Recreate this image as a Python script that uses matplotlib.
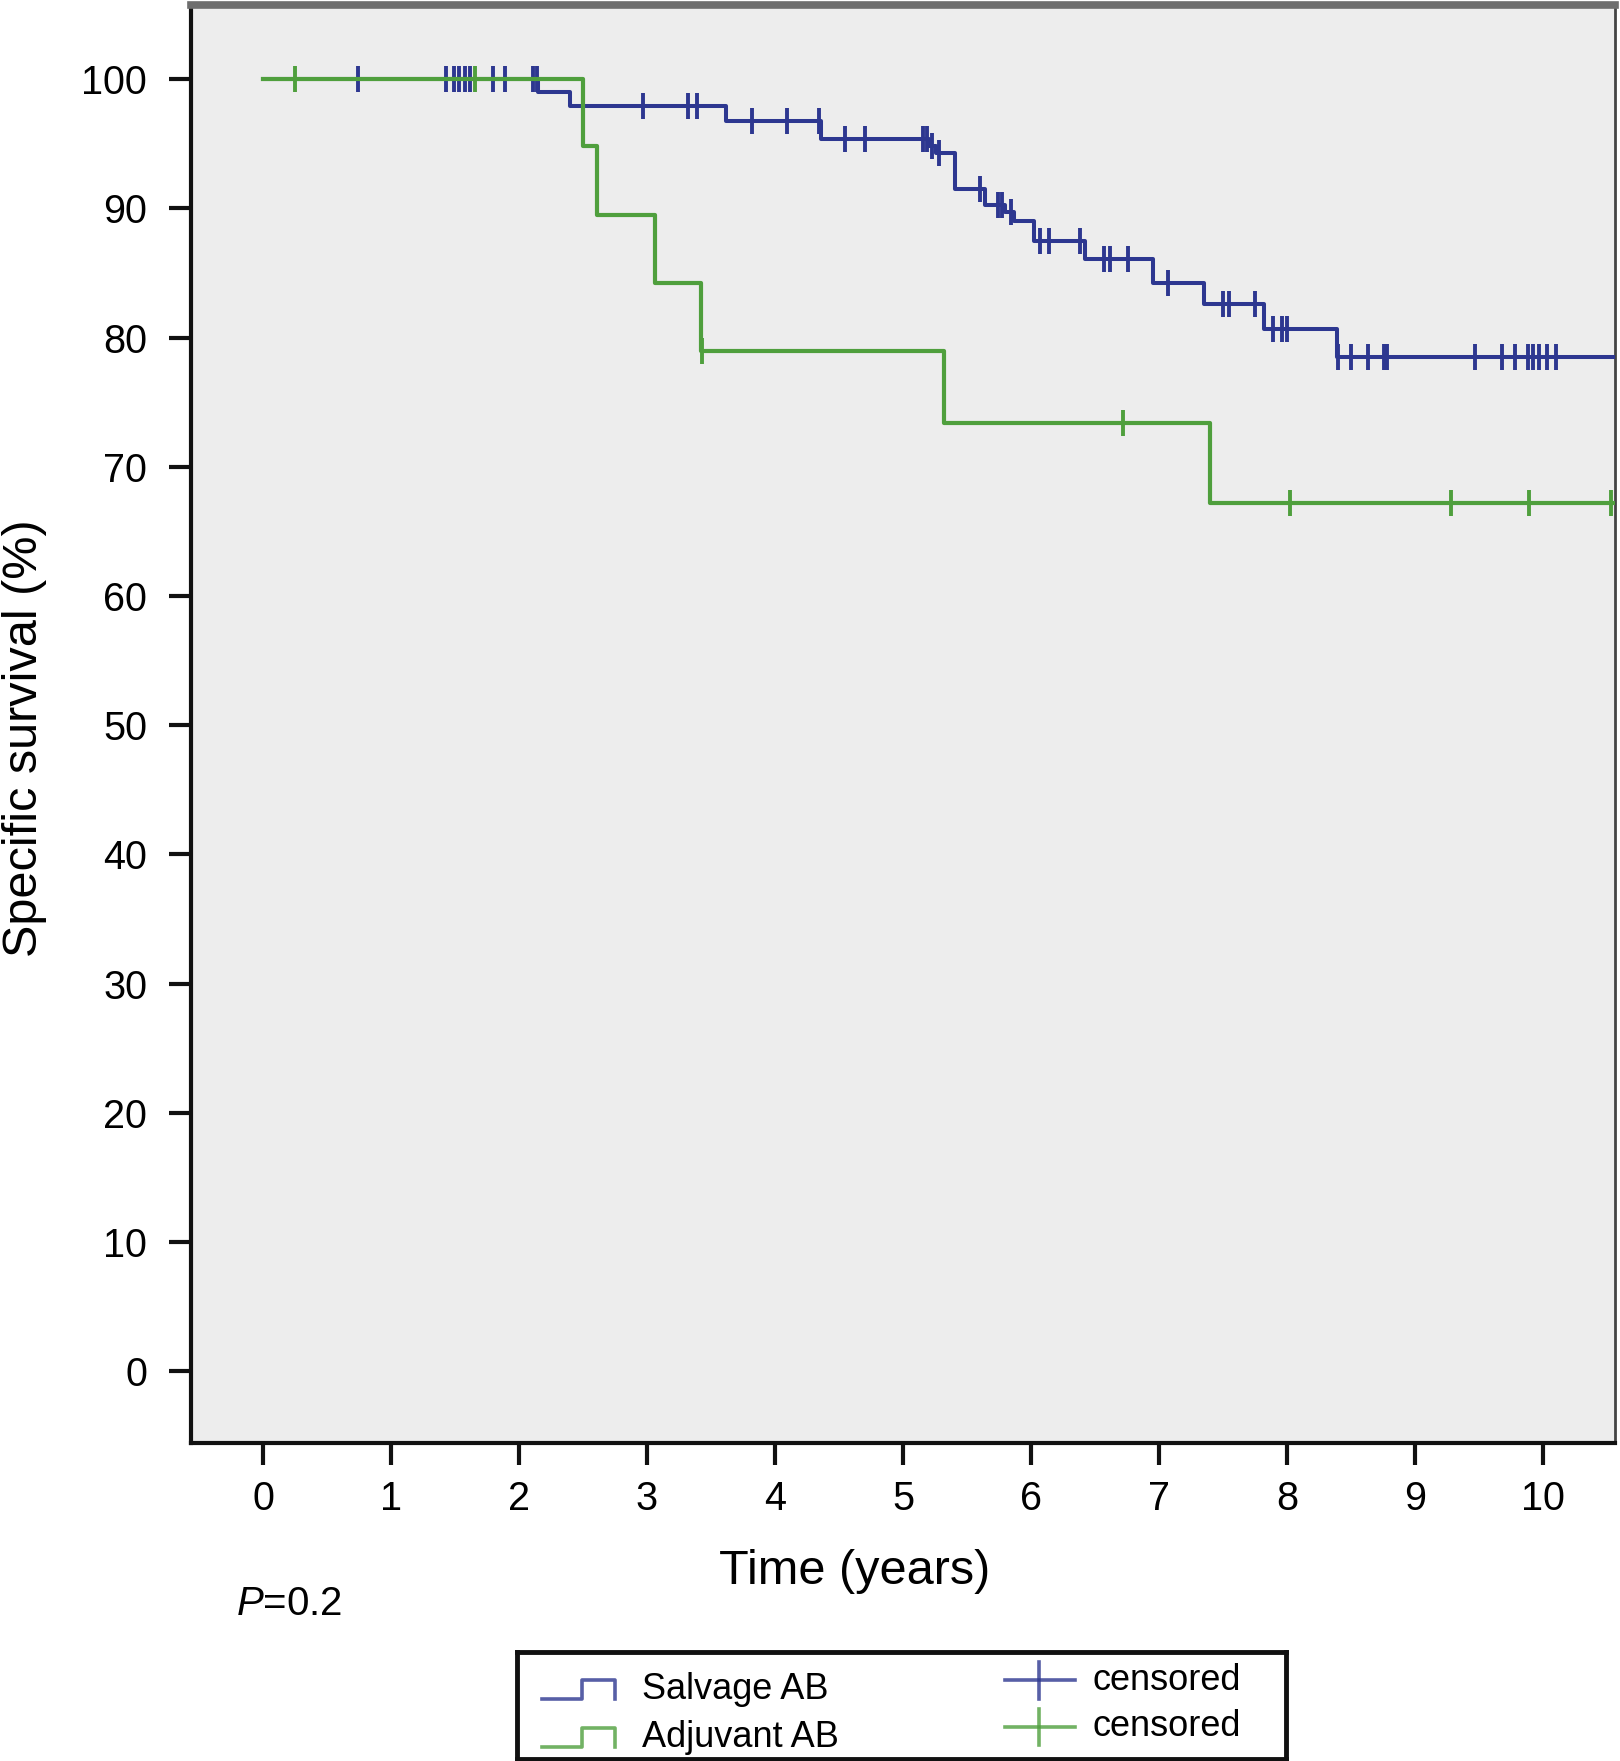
import matplotlib
matplotlib.use("Agg")
import matplotlib.pyplot as plt
import numpy as np

plt.rcParams["font.family"] = ["Liberation Sans", "DejaVu Sans"]
plt.rcParams["mathtext.fontset"] = "custom"
plt.rcParams["mathtext.it"] = "Liberation Sans:italic"
plt.rcParams["mathtext.rm"] = "Liberation Sans"

BLUE = "#2d3790"
GREEN = "#4f9f3d"

# Kaplan-Meier steps (time in years, survival in %)
salvage_times = [0, 2.15, 2.40, 3.62, 4.36, 5.20, 5.26, 5.41, 5.64, 5.80, 5.87,
                 6.02, 6.42, 6.95, 7.35, 7.82, 8.39, 10.7]
salvage_surv = [100, 99.0, 97.9, 96.8, 95.4, 94.85, 94.3, 91.5, 90.3, 89.7, 89.0,
                87.5, 86.1, 84.2, 82.6, 80.7, 78.5, 78.5]
salvage_censored = [0.74, 1.43, 1.49, 1.53, 1.58, 1.62, 1.80, 1.89, 2.11, 2.14,
                    2.97, 3.32, 3.39, 3.82, 4.09, 4.34, 4.55, 4.70, 5.16, 5.19,
                    5.23, 5.28, 5.60, 5.74, 5.77, 5.84, 6.07, 6.14, 6.38, 6.57,
                    6.62, 6.76, 7.07, 7.50, 7.55, 7.75, 7.89, 7.96, 8.00, 8.40,
                    8.50, 8.63, 8.76, 8.78, 9.47, 9.68, 9.78, 9.88, 9.92, 9.97,
                    10.03, 10.10]

adjuvant_times = [0, 2.50, 2.61, 3.06, 3.42, 5.32, 7.40, 10.7]
adjuvant_surv = [100, 94.8, 89.5, 84.2, 79.0, 73.4, 67.2, 67.2]
adjuvant_censored = [0.25, 1.66, 3.43, 6.72, 8.02, 9.28, 9.89, 10.53]

x_ticks = list(range(0, 11))
y_ticks = list(range(0, 101, 10))


def surv_at(times, surv, t):
    idx = np.searchsorted(times, t, side="right") - 1
    return np.asarray(surv)[idx]


fig = plt.figure(figsize=(16.2, 17.61), dpi=100)
ax = fig.add_axes([191 / 1620, 1 - 1443 / 1761, 1424 / 1620, 1438 / 1761])
ax.set_facecolor("#ededed")

ax.step(salvage_times, salvage_surv, where="post", color=BLUE, lw=2.9, zorder=3)
ax.plot(salvage_censored, surv_at(salvage_times, salvage_surv, salvage_censored),
        linestyle="none", marker="|", ms=19, mew=2.8, color=BLUE, zorder=3)
ax.step(adjuvant_times, adjuvant_surv, where="post", color=GREEN, lw=3.0, zorder=4)
ax.plot(adjuvant_censored, surv_at(adjuvant_times, adjuvant_surv, adjuvant_censored),
        linestyle="none", marker="|", ms=19, mew=2.8, color=GREEN, zorder=4)

ax.set_xlim(-0.5625, 10.5625)
ax.set_ylim(-5.55, 105.75)
ax.set_xticks(x_ticks)
ax.set_yticks(y_ticks)
ax.tick_params(axis="both", labelsize=28.5, length=15.5, width=3, color="#111111")
ax.tick_params(axis="y", pad=16)
ax.tick_params(axis="x", pad=11)

for side in ["left", "bottom"]:
    ax.spines[side].set_linewidth(3)
    ax.spines[side].set_color("#111111")
ax.spines["top"].set_linewidth(5.5)
ax.spines["top"].set_color("#6e6e6e")
ax.spines["right"].set_linewidth(2)
ax.spines["right"].set_color("#444444")

ax.set_xlabel("Time (years)", fontsize=35)
ax.xaxis.label.set_verticalalignment("baseline")
ax.xaxis.set_label_coords(0.466, -0.098)
ax.set_ylabel("Specific survival (%)", fontsize=35)
ax.yaxis.label.set_verticalalignment("center")
ax.yaxis.set_label_coords(-0.117, 0.49)

fig.text(236 / 1620, 1 - 1615 / 1761, "$P$=0.2", fontsize=29, va="baseline")

# legend box drawn by hand to match the SPSS layout
lg = fig.add_axes([517 / 1620, 2 / 1761, 769 / 1620, 107 / 1761])
lg.set_xlim(0, 1)
lg.set_ylim(0, 1)
lg.set_xticks([])
lg.set_yticks([])
lg.set_facecolor("white")
for s in lg.spines.values():
    s.set_linewidth(3.5)
    s.set_color("#111111")

rows = [("Salvage AB", BLUE, 0.56, 0.74, 0.735), ("Adjuvant AB", GREEN, 0.11, 0.29, 0.30)]
for name, col, lo, hi, cy in rows:
    lg.plot([0.033, 0.085, 0.085, 0.127, 0.127], [lo, lo, hi, hi, lo],
            color=col, lw=2.6, alpha=0.8)
    lg.text(0.163, (lo + hi) / 2, name, fontsize=26, va="center")
    lg.plot([0.634, 0.725], [cy, cy], color=col, lw=2.6, alpha=0.8)
    lg.plot([0.679, 0.679], [cy - 0.17, cy + 0.17], color=col, lw=2.6, alpha=0.8)
    lg.text(0.748, cy, "censored", fontsize=26, va="center")

fig.savefig("out.png", dpi=100)
